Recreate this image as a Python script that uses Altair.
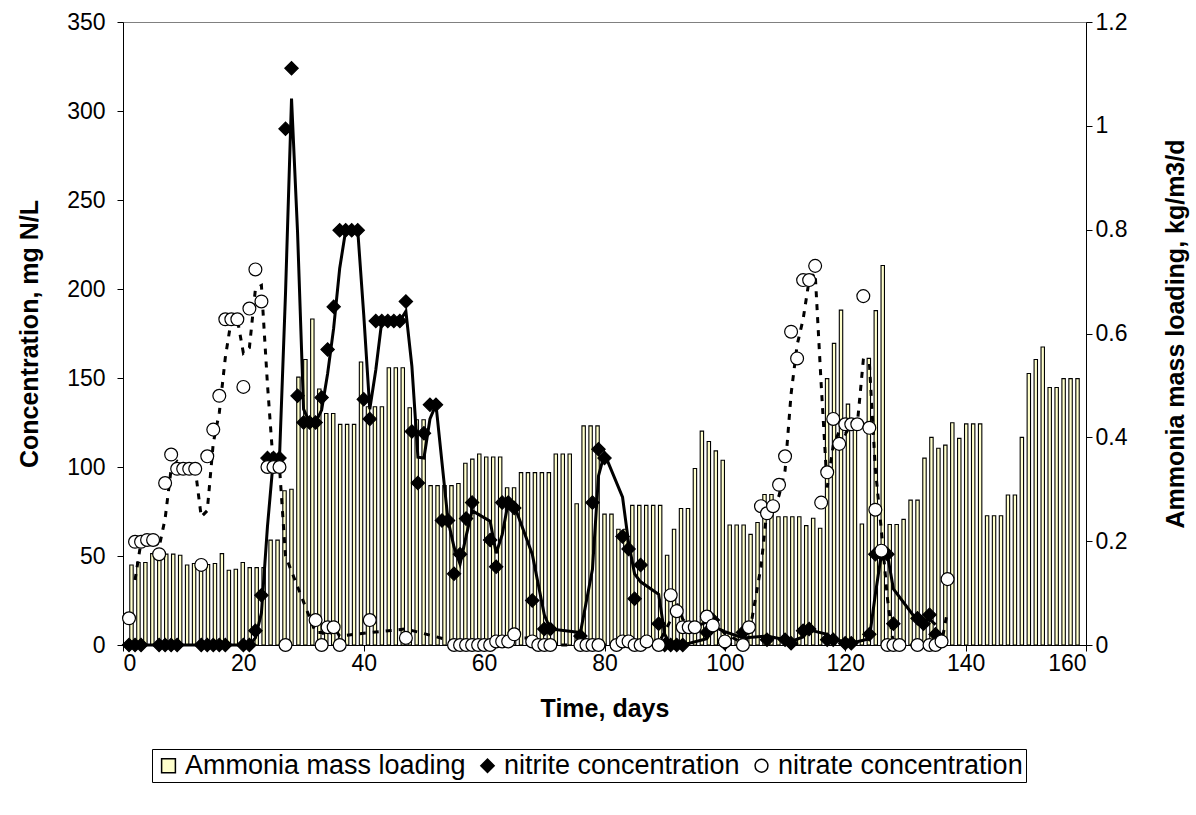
import altair as alt
import pandas as pd

# Ammonia mass loading (kg/m3/d), one bar per sampling category (137 categories)
loading = [
    0.154, 0.159, 0.159, 0.176, 0.176, 0.175, 0.175, 0.173, 0.154, 0.157,
    0.159, 0.155, 0.157, 0.176, 0.144, 0.146, 0.159, 0.149, 0.149, 0.149,
    0.202, 0.202, 0.297, 0.300, 0.516, 0.550, 0.628, 0.493, 0.446, 0.446,
    0.425, 0.425, 0.425, 0.545, 0.459, 0.459, 0.459, 0.534, 0.534, 0.534,
    0.457, 0.434, 0.434, 0.307, 0.307, 0.307, 0.307, 0.311, 0.350, 0.358,
    0.368, 0.362, 0.362, 0.362, 0.303, 0.303, 0.332, 0.332, 0.332, 0.332,
    0.332, 0.368, 0.368, 0.368, 0.272, 0.422, 0.422, 0.422, 0.252, 0.252,
    0.223, 0.223, 0.269, 0.269, 0.269, 0.269, 0.269, 0.173, 0.223, 0.263,
    0.263, 0.340, 0.412, 0.392, 0.374, 0.356, 0.231, 0.231, 0.231, 0.213,
    0.236, 0.290, 0.290, 0.247, 0.247, 0.247, 0.247, 0.230, 0.244, 0.225,
    0.513, 0.581, 0.645, 0.464, 0.425, 0.233, 0.552, 0.644, 0.731, 0.232,
    0.232, 0.242, 0.279, 0.279, 0.360, 0.400, 0.379, 0.385, 0.428, 0.398,
    0.426, 0.426, 0.426, 0.249, 0.249, 0.249, 0.289, 0.289, 0.400, 0.523,
    0.550, 0.574, 0.496, 0.496, 0.513, 0.513, 0.513,
]

# nitrite concentration (mg N/L)
nitrite_days = [1, 2, 3, 6, 7, 8, 9, 13, 14, 15, 16, 17, 20, 21, 22, 23, 24, 25, 26,
                27, 28, 29, 30, 31, 32, 33, 34, 35, 36, 37, 38, 39, 40, 41, 42, 43,
                44, 45, 46, 47, 48, 49, 50, 51, 52, 53, 54, 55, 56, 57, 58, 61, 62,
                63, 64, 65, 68, 70, 71, 76, 78, 79, 80, 83, 84, 85, 86, 89, 90, 91,
                92, 93, 97, 98, 100, 103, 107, 110, 111, 113, 114, 117, 118, 120,
                121, 124, 125, 126, 127, 128, 132, 133, 134, 135]
nitrite_vals = [0, 0, 0, 0, 0, 0, 0, 0, 0, 0, 0, 0, 0, 0, 8, 28, 105, 105, 105,
                290, 324, 140, 125, 125, 125, 139, 166, 190, 233, 233, 233, 233, 138,
                127, 182, 182, 182, 182, 182, 193, 120, 91, 119, 135, 135, 70, 70, 40,
                51, 71, 80, 59, 44, 80, 80, 77, 25, 9, 9, 5, 80, 110, 105, 61, 54, 26,
                45, 12, 0, 0, 0, 0, 7, 14, 1, 7, 3, 3, 1, 8, 9, 3, 3, 1, 1, 6, 51, 51,
                51, 12, 15, 12, 17, 6]

# nitrate concentration (mg N/L)
nitrate_days = [1, 2, 3, 4, 5, 6, 7, 8, 9, 10, 11, 12, 13, 14, 15, 16, 17, 18, 19, 20,
                21, 22, 23, 24, 25, 26, 27, 32, 33, 34, 35, 36, 41, 47, 55, 56, 57, 58,
                59, 60, 61, 62, 63, 64, 65, 68, 69, 70, 71, 76, 77, 78, 79, 82, 83, 84,
                85, 86, 87, 89, 91, 92, 93, 94, 95, 97, 98, 100, 103, 104, 106, 107,
                108, 109, 110, 111, 112, 113, 114, 115, 116, 117, 118, 119, 120, 121,
                122, 123, 124, 125, 126, 127, 128, 129, 132, 134, 135, 136, 137]
nitrate_vals = [15, 58, 58, 59, 59, 51, 91, 107, 99, 99, 99, 99, 45, 106, 121, 140, 183,
                183, 183, 145, 189, 211, 193, 100, 100, 100, 0, 14, 0, 10, 10, 0, 14, 4,
                0, 0, 0, 0, 0, 0, 0, 2, 2, 2, 6, 2, 0, 0, 0, 0, 0, 0, 0, 0, 2, 2, 0, 0,
                2, 0, 28, 19, 10, 10, 10, 16, 11, 2, 0, 10, 78, 74, 78, 90, 106, 176,
                161, 205, 205, 213, 80, 97, 127, 113, 124, 124, 124, 196, 122, 76, 53,
                0, 0, 0, 0, 0, 0, 2, 37]

series_names = ["Ammonia mass loading", "nitrite concentration", "nitrate concentration"]

bars_df = pd.DataFrame({"cat": [i + 0.5 for i in range(len(loading))], "load": loading})
nitrite_df = pd.DataFrame({"d": nitrite_days, "v": nitrite_vals, "series": series_names[1]})
nitrate_df = pd.DataFrame({"d": nitrate_days, "v": nitrate_vals, "series": series_names[2]})
points_df = pd.concat([nitrite_df, nitrate_df], ignore_index=True)

FONT = "Liberation Sans"
W, H = 963, 623

xs = alt.Scale(domain=[0, 160], nice=False, zero=False)
ys = alt.Scale(domain=[0, 350], nice=False)

bars = alt.Chart(bars_df).mark_bar(
    size=3.4, fill="#FFFFCC", stroke="black", strokeWidth=1.1
).encode(
    x=alt.X("cat:Q", scale=alt.Scale(domain=[0, len(loading)], nice=False, zero=False), axis=None),
    y=alt.Y("load:Q", scale=alt.Scale(domain=[0, 1.2], nice=False),
            axis=alt.Axis(orient="right", title="Ammonia mass loading, kg/m3/d",
                          values=[0, 0.2, 0.4, 0.6, 0.8, 1.0, 1.2], format="~g",
                          labelPadding=3, titlePadding=62, titleAngle=270)),
)


def ma_line(df, dash):
    kw = dict(color="black", strokeWidth=3)
    if dash:
        kw["strokeDash"] = [6, 7]
    return alt.Chart(df).transform_window(
        ma="mean(v)", rn="row_number()", frame=[-1, 0], sort=[alt.SortField("d")]
    ).transform_filter("datum.rn > 1").mark_line(**kw).encode(
        x=alt.X("d:Q", scale=xs, axis=None),
        y=alt.Y("ma:Q", scale=ys, axis=None),
        order="d:Q",
    )


nitrite_line = ma_line(nitrite_df, False)
nitrate_line = ma_line(nitrate_df, True)

legend = alt.Legend(title=None, orient="none", legendX=29, legendY=727,
                    direction="horizontal", columns=3, strokeColor="black",
                    padding=3, labelFontSize=27, labelFont=FONT, labelLimit=500,
                    labelColor="black", columnPadding=8, labelOffset=3)

points = alt.Chart(points_df).mark_point(filled=True, strokeWidth=1.2, opacity=1).encode(
    x=alt.X("d:Q", scale=xs, title="Time, days",
            axis=alt.Axis(values=list(range(0, 161, 20)), labelPadding=1, titlePadding=21)),
    y=alt.Y("v:Q", scale=ys, title="Concentration, mg N/L",
            axis=alt.Axis(values=list(range(0, 351, 50)), labelPadding=12, titlePadding=24)),
    shape=alt.Shape("series:N", scale=alt.Scale(domain=series_names,
                                                range=["square", "diamond", "circle"]),
                    legend=legend),
    fill=alt.Fill("series:N", scale=alt.Scale(domain=series_names,
                                              range=["#FFFFCC", "black", "white"]),
                  legend=legend),
    stroke=alt.Stroke("series:N", scale=alt.Scale(domain=series_names,
                                                  range=["black", "black", "black"]),
                      legend=legend),
    size=alt.Size("series:N", scale=alt.Scale(domain=series_names, range=[190, 165, 165]),
                  legend=legend),
)

chart = alt.layer(bars, nitrite_line, nitrate_line, points).resolve_scale(
    x="independent", y="independent"
).properties(
    width=W, height=H,
    background="white",
    autosize=alt.AutoSizeParams(type="none"),
    padding={"left": 123, "top": 22, "right": 110, "bottom": 170},
).configure_view(
    stroke="#808080", strokeWidth=1
).configure_axis(
    grid=False, domainColor="black", tickColor="black", tickSize=6,
    labelFont=FONT, labelFontSize=23, labelColor="black",
    titleFont=FONT, titleFontSize=25, titleFontWeight="bold", titleColor="black",
)

chart.save("out.html", embed_options={"renderer": "svg", "actions": False})
